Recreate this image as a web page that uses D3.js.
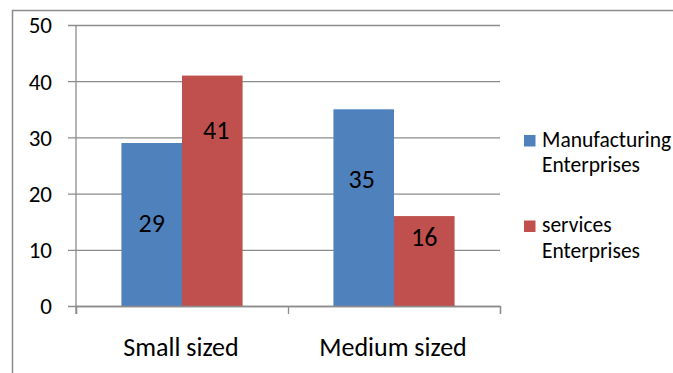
<!DOCTYPE html>
<html>
<head>
<meta charset="utf-8">
<script src="https://cdn.jsdelivr.net/npm/d3@7/dist/d3.min.js"></script>
<style>
  html, body { margin: 0; padding: 0; background: #fff; }
  svg { display: block; font-family: Carlito, "Liberation Sans", Arial, sans-serif; }
</style>
</head>
<body>
<svg id="chart" width="673" height="373"></svg>
<script>
// Enterprise counts by size
const categories = ["Small sized", "Medium sized"];
const seriesNames = ["Manufacturing Enterprises", "services Enterprises"];
const manufacturing = [29, 35];
const services = [41, 16];
const yTicks = [0, 10, 20, 30, 40, 50];

const seriesValues = [manufacturing, services];
const colors = ["#4F81BD", "#C0504D"];
const legendLines = [["Manufacturing", "Enterprises"], ["services", "Enterprises"]];

const svg = d3.select("#chart");
const plotLeft = 76, plotRight = 500, plotTop = 25, plotBottom = 306;

// outer frame
svg.append("path")
  .attr("d", "M12.5,373 L12.5,10.5 L673,10.5")
  .attr("fill", "none").attr("stroke", "#8c8c8c").attr("stroke-width", 1.5);

const y = d3.scaleLinear().domain([0, 50]).range([plotBottom, plotTop]);
const x0 = d3.scaleBand().domain(categories).range([plotLeft, plotRight]);
const x1 = d3.scaleBand().domain(seriesNames).range([0, x0.bandwidth()])
  .paddingInner(0).paddingOuter(0.75);

// gridlines + value axis
const gridLen = plotRight - plotLeft + 8;
const yAxis = d3.axisLeft(y).tickValues(yTicks).tickSize(gridLen).tickPadding(16);
const gy = svg.append("g").attr("transform", `translate(${plotRight},0)`).call(yAxis);
gy.select(".domain").remove();
gy.selectAll(".tick line").attr("stroke", "#8c8c8c").attr("stroke-width", 1.3);
gy.selectAll(".tick text").attr("fill", "#000").attr("font-size", 23)
  .attr("font-family", "Carlito, 'Liberation Sans', Arial, sans-serif")
  .attr("x", -gridLen - 16).attr("dy", "0.34em");

// vertical axis line
svg.append("line").attr("x1", plotLeft).attr("x2", plotLeft).attr("y1", plotTop).attr("y2", plotBottom + 8)
  .attr("stroke", "#8c8c8c").attr("stroke-width", 1.3);

// bars
const groups = svg.append("g").selectAll("g").data(categories).join("g")
  .attr("transform", d => `translate(${x0(d)},0)`);
groups.selectAll("rect")
  .data((c, ci) => seriesNames.map((s, si) => ({ s, si, v: seriesValues[si][ci] })))
  .join("rect")
  .attr("x", d => x1(d.s))
  .attr("width", x1.bandwidth())
  .attr("y", d => y(d.v))
  .attr("height", d => plotBottom - y(d.v))
  .attr("fill", d => colors[d.si]);

// category axis
const xAxis = d3.axisBottom(d3.scaleLinear().domain([0, 2]).range([plotLeft, plotRight]))
  .tickValues([0, 1, 2]).tickSize(8).tickFormat("");
const gx = svg.append("g").attr("transform", `translate(0,${plotBottom})`).call(xAxis);
gx.select(".domain").attr("stroke", "#8c8c8c").attr("stroke-width", 1.3);
gx.selectAll(".tick line").attr("stroke", "#8c8c8c").attr("stroke-width", 1.3);

svg.append("g").selectAll("text").data(categories).join("text")
  .attr("x", d => x0(d) + x0.bandwidth() / 2 - 1)
  .attr("y", 356)
  .attr("text-anchor", "middle")
  .attr("font-size", 26)
  .text(d => d);

// value labels inside the bars (vertical anchor in data units per bar)
const labelAnchor = [[14.8, 22.6], [31.3, 12.3]];
const labelShiftX = [[0, -2], [4, 0]];
groups.selectAll("text")
  .data((c, ci) => seriesNames.map((s, si) => ({ s, si, ci, v: seriesValues[si][ci] })))
  .join("text")
  .attr("x", d => x1(d.s) + x1.bandwidth() / 2 + labelShiftX[d.si][d.ci])
  .attr("y", d => y(labelAnchor[d.si][d.ci]))
  .attr("dy", "0.34em")
  .attr("text-anchor", "middle")
  .attr("font-size", 26)
  .text(d => d.v);

// legend
const legend = svg.append("g").selectAll("g").data(seriesNames).join("g")
  .attr("transform", (d, i) => `translate(524,${i === 0 ? 135 : 220.5})`);
legend.append("rect").attr("width", 11.5).attr("height", 11.5).attr("fill", (d, i) => colors[i]);
legend.each(function (d, i) {
  const t = d3.select(this).append("text").attr("x", 18).attr("y", 11.5).attr("font-size", 21.5);
  legendLines[i].forEach((line, k) => {
    t.append("tspan").attr("x", 18).attr("dy", k === 0 ? 0 : 25.5).text(line);
  });
});
</script>
</body>
</html>
